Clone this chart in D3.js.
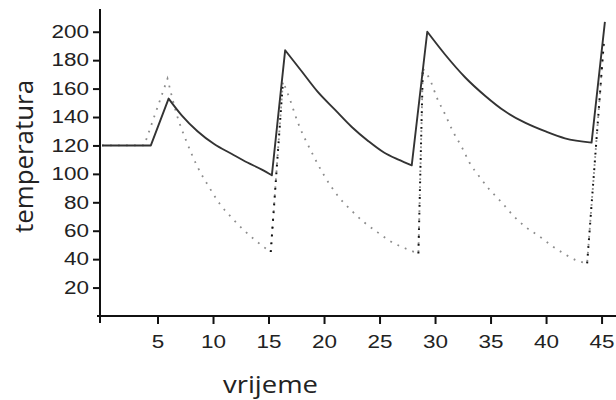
<!DOCTYPE html>
<html>
<head>
<meta charset="utf-8">
<script src="https://cdn.jsdelivr.net/npm/d3@7"></script>
<style>
  html, body { margin: 0; padding: 0; background: #fff; }
  svg { display: block; }
</style>
</head>
<body>
<div id="chart"></div>
<script>
// solid line: temperatura
const solidT = [0, 4.4, 6.0, 7.2, 8.6, 10.1, 11.7, 13.1, 14.4, 15.3, 16.5, 18.0, 19.4, 21.0, 22.5, 24.0, 25.4, 26.7, 27.9, 29.3, 30.9, 32.7, 34.5, 36.3, 38.1, 39.9, 41.7, 44.1, 45.3];
const solidV = [120, 120, 153, 141, 130, 121, 114, 108, 103, 99, 187, 172, 158, 145, 133, 123, 115, 110, 106, 200, 184, 168, 155, 144, 136, 130, 125, 122, 207];

// dotted grey curve (cooling parts)
const dotT = [0, 3.8, 5.9, 6.8, 7.6, 8.6, 9.7, 10.6, 11.7, 12.7, 13.7, 14.5, 15.2, 16.3, 16.9, 17.6, 18.9, 20.0, 21.2, 22.5, 23.6, 24.8, 26.1, 27.5, 28.5, 28.9, 29.5, 30.2, 30.9, 31.6, 32.4, 33.1, 34.0, 34.9, 36.0, 37.0, 38.1, 39.4, 40.6, 41.8, 42.8, 43.7, 45.2];
const dotV = [120, 120, 167, 140, 123, 105, 90, 79, 69, 61, 54, 49, 45, 165, 153, 137, 115, 99, 85, 74, 66, 59, 52, 47, 44, 174, 167, 153, 142, 130, 119, 108, 98, 89, 80, 71, 63, 56, 49, 43, 39, 37, 192];

// black dotted rises
const riseT = [[15.2, 16.3], [28.5, 28.9], [43.7, 45.2]];
const riseV = [[45, 165], [44, 174], [37, 192]];

const xTicks = [5, 10, 15, 20, 25, 30, 35, 40, 45];
const yTicks = [20, 40, 60, 80, 100, 120, 140, 160, 180, 200];

const width = 616, height = 400;
const svg = d3.select('#chart').append('svg').attr('width', width).attr('height', height);

const x = d3.scaleLinear().domain([0, 46.3]).range([102, 616]);
const y = d3.scaleLinear().domain([0, 216]).range([316, 9]);
const digitW = 12.5;

const gx = svg.append('g').attr('transform', 'translate(0,316)')
  .call(d3.axisBottom(x).tickValues(xTicks).tickSize(8).tickPadding(11).tickSizeOuter(0));
const gy = svg.append('g').attr('transform', 'translate(100,0)')
  .call(d3.axisLeft(y).tickValues(yTicks).tickSize(7).tickPadding(4).tickSizeOuter(0));

[gx, gy].forEach(g => {
  g.select('.domain').remove();
  g.selectAll('line').attr('stroke', '#111').attr('stroke-width', 2);
  g.selectAll('text')
    .attr('fill', '#222')
    .style('font-family', '"Liberation Sans", Arial, sans-serif')
    .style('font-size', '18px')
    .attr('lengthAdjust', 'spacingAndGlyphs')
    .attr('textLength', d => String(d).length * digitW);
});

// axis lines
svg.append('line').attr('x1', 100).attr('x2', 100).attr('y1', y.range()[1]).attr('y2', 323)
  .attr('stroke', '#111').attr('stroke-width', 2);
svg.append('line').attr('x1', 97).attr('x2', width).attr('y1', 316).attr('y2', 316)
  .attr('stroke', '#111').attr('stroke-width', 2);

// split a series into monotone runs so the cooling parts are smooth and the peaks stay sharp
function runs(ts, vs) {
  const pts = ts.map((t, i) => [t, vs[i]]);
  const out = [];
  let cur = [pts[0]];
  let dir = 0;
  for (let i = 1; i < pts.length; i++) {
    const d = Math.sign(pts[i][1] - pts[i - 1][1]);
    if (cur.length > 1 && d !== dir) { out.push(cur); cur = [pts[i - 1]]; }
    dir = d;
    cur.push(pts[i]);
  }
  out.push(cur);
  return out;
}

const line = d3.line().x(d => x(d[0])).y(d => y(d[1])).curve(d3.curveMonotoneX);
const straight = d3.line().x(d => x(d[0])).y(d => y(d[1]));

// dotted grey line as one continuous path
const dotPath = runs(dotT, dotV).map(r => line(r)).join('');
svg.append('path')
  .attr('d', dotPath.replace(/M/g, (m, i) => i === 0 ? 'M' : 'L'))
  .attr('fill', 'none')
  .attr('stroke', '#8c8c8c')
  .attr('stroke-width', 1.8)
  .attr('stroke-dasharray', '1.8,6.2');

svg.selectAll('.rise').data(riseT.map((ts, i) => ts.map((t, j) => [t, riseV[i][j]])))
  .enter().append('path')
  .attr('class', 'rise')
  .attr('d', straight)
  .attr('fill', 'none')
  .attr('stroke', '#111')
  .attr('stroke-width', 2)
  .attr('stroke-dasharray', '1.8,6');

const solidPath = runs(solidT, solidV).map(r => line(r)).join('');
svg.append('path')
  .attr('d', solidPath.replace(/M/g, (m, i) => i === 0 ? 'M' : 'L'))
  .attr('fill', 'none')
  .attr('stroke', '#333')
  .attr('stroke-width', 1.9)
  .attr('stroke-linejoin', 'round');

// axis titles
svg.append('text')
  .attr('transform', 'translate(33,233) rotate(-90)')
  .attr('fill', '#222')
  .style('font-family', '"Open Sans", "Noto Sans", sans-serif')
  .style('font-size', '25px')
  .attr('lengthAdjust', 'spacingAndGlyphs')
  .attr('textLength', 153)
  .text('temperatura');

svg.append('text')
  .attr('x', 223).attr('y', 393)
  .attr('fill', '#222')
  .style('font-family', '"Open Sans", "Noto Sans", sans-serif')
  .style('font-size', '24px')
  .attr('lengthAdjust', 'spacingAndGlyphs')
  .attr('textLength', 95)
  .text('vrijeme');
</script>
</body>
</html>
